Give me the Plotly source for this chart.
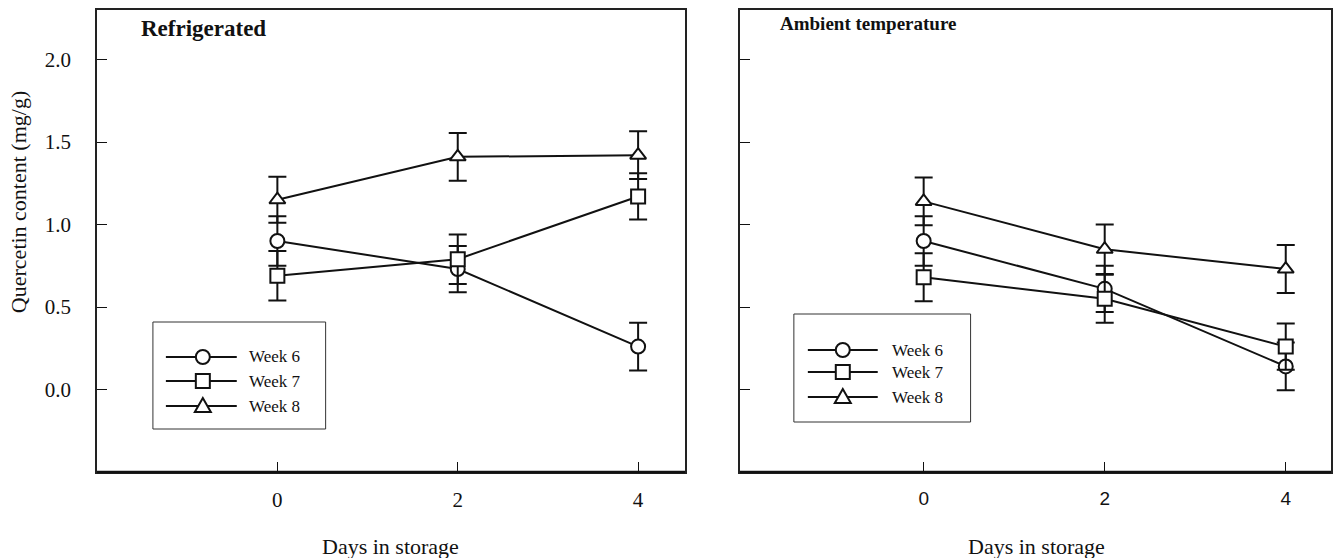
import plotly.graph_objects as go

# Storage time (days) and quercetin content (mg/g), mean and error per harvest week
days = [0, 2, 4]
week_labels = ["Week 6", "Week 7", "Week 8"]
symbols = ["circle", "square", "triangle-up"]

refr_week6 = [0.90, 0.73, 0.26]
refr_week6_err = [0.15, 0.14, 0.145]
refr_week7 = [0.69, 0.79, 1.17]
refr_week7_err = [0.15, 0.15, 0.14]
refr_week8 = [1.15, 1.41, 1.42]
refr_week8_err = [0.14, 0.145, 0.145]

amb_week6 = [0.90, 0.61, 0.14]
amb_week6_err = [0.15, 0.14, 0.145]
amb_week7 = [0.68, 0.55, 0.26]
amb_week7_err = [0.145, 0.145, 0.14]
amb_week8 = [1.14, 0.85, 0.73]
amb_week8_err = [0.145, 0.15, 0.145]

y_ticks = [0.0, 0.5, 1.0, 1.5, 2.0]
x_ticks = [0, 2, 4]

SERIF = "Liberation Serif, Times New Roman, serif"
SANS = "Liberation Sans, Arial, sans-serif"
INK = "#111"

W, H = 1340, 558
PLOT_L, PLOT_R, PLOT_T, PLOT_B = 97, 1333, 10, 472
LEFT_DOMAIN = [0, 0.4765]
RIGHT_DOMAIN = [0.521, 1]


def px(x):
    """Horizontal page pixel -> paper fraction."""
    return (x - PLOT_L) / (PLOT_R - PLOT_L)


def py(y):
    """Vertical page pixel (from top) -> paper fraction."""
    return (PLOT_B - y) / (PLOT_B - PLOT_T)


fig = go.Figure()

panels = [
    ("x", "y", [refr_week6, refr_week7, refr_week8],
     [refr_week6_err, refr_week7_err, refr_week8_err]),
    ("x2", "y2", [amb_week6, amb_week7, amb_week8],
     [amb_week6_err, amb_week7_err, amb_week8_err]),
]

for xa, ya, series, errors in panels:
    for vals, errs, sym in zip(series, errors, symbols):
        fig.add_trace(go.Scatter(
            x=days, y=vals, xaxis=xa, yaxis=ya,
            mode="lines+markers",
            line=dict(color=INK, width=2),
            marker=dict(symbol=sym, size=14, color="white",
                        line=dict(color=INK, width=2)),
            error_y=dict(type="data", array=errs, visible=True,
                         color=INK, thickness=2, width=9),
            showlegend=False, hoverinfo="skip",
        ))

# Legend boxes drawn as shapes (page pixel positions of box, sample line, marker, text)
legend_boxes = [
    dict(box=(153, 322, 326, 429), line=(166, 237), mark=203, text=247,
         rows=[357, 381, 406]),
    dict(box=(795, 314, 972, 422), line=(809, 879), mark=844, text=891,
         rows=[350, 372, 397]),
]

# Legend sample glyphs in pixel units around an anchor point
glyphs = {
    "circle": dict(type="circle", x0=-7, x1=7, y0=-7, y1=7),
    "square": dict(type="rect", x0=-7, x1=7, y0=-7, y1=7),
    "triangle-up": dict(type="path", path="M -8 -6 L 8 -6 L 0 8 Z"),
}

shapes = []
annotations = []
for lb in legend_boxes:
    x0, y0, x1, y1 = lb["box"]
    shapes.append(dict(type="rect", xref="paper", yref="paper",
                       x0=px(x0), y0=py(y0), x1=px(x1), y1=py(y1),
                       line=dict(color="#333", width=1), fillcolor="white",
                       layer="below"))
    for row, sym, lab in zip(lb["rows"], symbols, week_labels):
        shapes.append(dict(type="line", xref="paper", yref="paper",
                           x0=px(lb["line"][0]), x1=px(lb["line"][1]),
                           y0=py(row), y1=py(row),
                           line=dict(color=INK, width=2)))
        g = dict(glyphs[sym])
        g.update(xref="paper", yref="paper", xsizemode="pixel", ysizemode="pixel",
                 xanchor=px(lb["mark"]), yanchor=py(row),
                 fillcolor="white", line=dict(color=INK, width=2))
        shapes.append(g)
        annotations.append(dict(x=px(lb["text"]), y=py(row), xref="paper", yref="paper",
                                text=lab, showarrow=False, xanchor="left",
                                yanchor="middle",
                                font=dict(family=SERIF, size=17, color=INK)))

# Heavier baseline along the bottom of each panel
for dom in (LEFT_DOMAIN, RIGHT_DOMAIN):
    shapes.append(dict(type="line", xref="paper", yref="paper",
                       x0=dom[0], x1=dom[1], y0=0, y1=0,
                       line=dict(color=INK, width=2.5)))

# Panel titles and axis titles
annotations += [
    dict(x=px(139), y=py(28), xref="paper", yref="paper", text="<b>Refrigerated</b>",
         showarrow=False, xanchor="left", yanchor="middle",
         font=dict(family=SERIF, size=23, color=INK)),
    dict(x=px(779), y=py(24), xref="paper", yref="paper",
         text="<b>Ambient temperature</b>",
         showarrow=False, xanchor="left", yanchor="middle",
         font=dict(family=SERIF, size=19, color=INK)),
    dict(x=px(391), y=py(546), xref="paper", yref="paper", text="Days in storage",
         showarrow=False, xanchor="center", yanchor="middle",
         font=dict(family=SERIF, size=22, color=INK)),
    dict(x=px(1038), y=py(546), xref="paper", yref="paper", text="Days in storage",
         showarrow=False, xanchor="center", yanchor="middle",
         font=dict(family=SERIF, size=22, color=INK)),
    dict(x=px(18), y=py(202), xref="paper", yref="paper",
         text="Quercetin content (mg/g)",
         showarrow=False, xanchor="center", yanchor="middle", textangle=-90,
         font=dict(family=SERIF, size=22, color=INK)),
]

frame = dict(showline=True, mirror=True, linecolor="#222", linewidth=1.5,
             showgrid=False, zeroline=False, ticks="inside", ticklen=10,
             tickwidth=1, tickcolor=INK)

fig.update_layout(
    width=W, height=H,
    margin=dict(l=PLOT_L, r=W - PLOT_R, t=PLOT_T, b=H - PLOT_B),
    paper_bgcolor="white", plot_bgcolor="white",
    showlegend=False,
    xaxis=dict(domain=LEFT_DOMAIN, range=[-2.0, 4.52], tickvals=x_ticks,
               anchor="y", ticklabelstandoff=8,
               tickfont=dict(family=SERIF, size=21, color=INK), **frame),
    yaxis=dict(domain=[0, 1], range=[-0.5, 2.3], tickvals=y_ticks,
               anchor="x", tickformat=".1f", ticklabelstandoff=20,
               tickfont=dict(family=SERIF, size=21, color=INK), **frame),
    xaxis2=dict(domain=RIGHT_DOMAIN, range=[-2.03, 4.5], tickvals=x_ticks,
                anchor="y2", ticklabelstandoff=8,
                tickfont=dict(family=SANS, size=19, color=INK), **frame),
    yaxis2=dict(domain=[0, 1], range=[-0.5, 2.3], tickvals=y_ticks,
                anchor="x2", showticklabels=False, **frame),
    shapes=shapes,
    annotations=annotations,
)

fig.write_html("out.html")
